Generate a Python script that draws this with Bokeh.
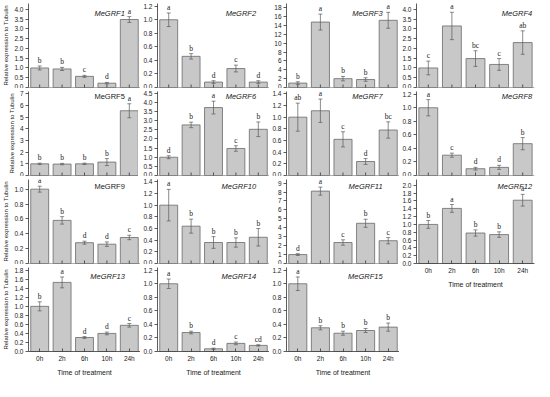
import math
from bokeh.plotting import figure
from bokeh.models import (ColumnDataSource, Whisker, Label, LabelSet, FixedTicker,
                          NumeralTickFormatter, FactorRange, Range1d, TeeHead, Span)
from bokeh.layouts import row, column
from bokeh.embed import file_html
from bokeh.resources import INLINE

times = ["0h", "2h", "6h", "10h", "24h"]

genes = ["MeGRF1", "MeGRF2", "MeGRF3", "MeGRF4", "MeGRF5", "MeGRF6", "MeGRF7",
         "MeGRF8", "MeGRF9", "MeGRF10", "MeGRF11", "MeGRF12", "MeGRF13",
         "MeGRF14", "MeGRF15"]

means = [
    [1.00, 0.95, 0.57, 0.22, 3.48],
    [1.00, 0.46, 0.08, 0.28, 0.08],
    [1.00, 14.8, 2.00, 1.80, 15.2],
    [1.00, 3.15, 1.48, 1.18, 2.30],
    [1.00, 0.98, 1.00, 1.15, 5.55],
    [1.00, 2.77, 3.72, 1.48, 2.53],
    [1.00, 1.11, 0.62, 0.24, 0.78],
    [1.00, 0.30, 0.10, 0.12, 0.47],
    [1.00, 0.58, 0.28, 0.26, 0.35],
    [1.00, 0.64, 0.36, 0.36, 0.45],
    [1.00, 8.10, 2.35, 4.50, 2.55],
    [1.00, 1.41, 0.78, 0.74, 1.62],
    [1.00, 1.53, 0.31, 0.40, 0.58],
    [1.00, 0.28, 0.04, 0.12, 0.09],
    [1.00, 0.35, 0.27, 0.31, 0.36],
]

errs = [
    [0.10, 0.08, 0.05, 0.04, 0.15],
    [0.10, 0.04, 0.02, 0.05, 0.02],
    [0.30, 1.80, 0.50, 0.40, 1.80],
    [0.35, 0.70, 0.40, 0.30, 0.60],
    [0.06, 0.06, 0.06, 0.30, 0.60],
    [0.08, 0.15, 0.35, 0.15, 0.40],
    [0.24, 0.20, 0.13, 0.05, 0.14],
    [0.12, 0.03, 0.02, 0.03, 0.09],
    [0.04, 0.05, 0.02, 0.03, 0.03],
    [0.27, 0.12, 0.10, 0.08, 0.15],
    [0.10, 0.45, 0.30, 0.45, 0.35],
    [0.10, 0.10, 0.08, 0.07, 0.15],
    [0.10, 0.12, 0.02, 0.03, 0.04],
    [0.07, 0.02, 0.01, 0.02, 0.01],
    [0.10, 0.03, 0.03, 0.03, 0.06],
]

letters = [
    ["b", "b", "c", "d", "a"],
    ["a", "b", "d", "c", "d"],
    ["b", "a", "b", "b", "a"],
    ["c", "a", "bc", "c", "ab"],
    ["b", "b", "b", "b", "a"],
    ["d", "b", "a", "c", "b"],
    ["ab", "a", "c", "d", "bc"],
    ["a", "c", "d", "d", "b"],
    ["a", "b", "d", "d", "c"],
    ["a", "b", "b", "b", "b"],
    ["d", "a", "c", "b", "c"],
    ["b", "a", "b", "b", "a"],
    ["b", "a", "d", "d", "c"],
    ["a", "b", "d", "c", "cd"],
    ["a", "b", "b", "b", "b"],
]

# y axis: last tick, tick step, axis end
tick_max = [4.0, 1.2, 18, 4.0, 7, 4.5, 1.4, 1.2, 1.0, 1.4, 9, 2.0, 1.8, 1.2, 1.2]
tick_step = [0.5, 0.2, 2, 0.5, 1, 0.5, 0.2, 0.2, 0.2, 0.2, 1, 0.2, 0.2, 0.2, 0.2]
y_end = [4.3, 1.24, 19.0, 4.3, 7.2, 4.6, 1.44, 1.24, 1.13, 1.44, 9.4, 2.15, 1.86, 1.24, 1.24]
upright = {"MeGRF5", "MeGRF9"}

FONT = "Liberation Sans"
frame_widths = [112, 112, 113, 118]
label_anchor = [4.3, 4.4, 4.25, 4.9]   # where the gene name ends, per column
label_drop = [-5, 0, -2, -4]            # gene name offset from the top, per row
BAR_FILL = "#c8c8c8"
BAR_LINE = "#6a6a6a"
AX = "#333333"
TXT = "#1a1a1a"


def make(i, col, rw, bottom):
    src = ColumnDataSource(dict(
        x=times, mean=means[i], base=[0.0] * len(times),
        upper=[m + e for m, e in zip(means[i], errs[i])],
        lower=[m - e for m, e in zip(means[i], errs[i])],
        letter=letters[i],
    ))
    p = figure(x_range=FactorRange(*times), y_range=Range1d(0, y_end[i]),
               frame_width=frame_widths[col], frame_height=84,
               output_backend="svg", toolbar_location=None,
               min_border_left=26 if col == 0 else 16,
               min_border_right=3 if col == 3 else 0,
               min_border_top=3, min_border_bottom=1,
               outline_line_color=None, background_fill_color="white",
               border_fill_color="white")
    p.xgrid.grid_line_color = None
    p.ygrid.grid_line_color = None
    p.vbar(x="x", top="mean", width=0.8, source=src,
           fill_color=BAR_FILL, line_color=BAR_LINE, line_width=0.8)
    w = Whisker(base="x", upper="upper", lower="lower", source=src,
                line_color="#5a5a5a", line_width=0.7, level="annotation",
                upper_head=TeeHead(size=4, line_color="#5a5a5a", line_width=0.7),
                lower_head=TeeHead(size=4, line_color="#5a5a5a", line_width=0.7))
    p.add_layout(w)
    p.add_layout(LabelSet(x="x", y="upper", text="letter", source=src,
                          text_align="center", text_baseline="bottom", y_offset=1,
                          text_font=FONT, text_font_size="7.5px", text_color=TXT))
    p.add_layout(Label(x=label_anchor[col], y=y_end[i], y_offset=label_drop[rw],
                       text=genes[i], text_align="right", text_baseline="top",
                       text_font=FONT, text_font_size="7.5px", text_color=TXT,
                       text_font_style="normal" if genes[i] in upright else "italic"))
    n = int(round(tick_max[i] / tick_step[i]))
    p.yaxis.ticker = FixedTicker(ticks=[round(k * tick_step[i], 3) for k in range(n + 1)])
    p.yaxis.formatter = NumeralTickFormatter(format="0.0" if tick_step[i] < 1 else "0")
    for ax in (p.xaxis, p.yaxis):
        ax.axis_line_color = AX
        ax.major_tick_line_color = AX
        ax.minor_tick_line_color = None
        ax.major_label_text_font = FONT
        ax.major_label_text_color = TXT
        ax.major_label_text_font_size = "6.5px"
        ax.axis_line_width = 0.8
        ax.major_tick_line_width = 0.8
    p.yaxis.major_tick_out = 3
    p.yaxis.major_tick_in = 0
    p.yaxis.major_label_standoff = 2
    p.xaxis.major_tick_in = 3
    p.xaxis.major_tick_out = 0
    if col == 0:
        p.yaxis.axis_label = "Relative expression to Tubulin"
        p.yaxis.axis_label_text_font = FONT
        p.yaxis.axis_label_text_font_size = "6px"
        p.yaxis.axis_label_text_font_style = "normal"
        p.yaxis.axis_label_text_color = TXT
        p.yaxis.axis_label_standoff = 2
    if bottom:
        p.xaxis.major_label_standoff = 3
        p.xaxis.axis_label = "Time of treatment"
        p.xaxis.axis_label_text_font = FONT
        p.xaxis.axis_label_text_font_size = "7px"
        p.xaxis.axis_label_text_font_style = "normal"
        p.xaxis.axis_label_text_color = TXT
        p.xaxis.axis_label_standoff = 4
    else:
        # axis without labels: baseline plus inward ticks at the bar centres
        p.xaxis.visible = False
        p.add_layout(Span(location=0, dimension="width", line_color=AX,
                          line_width=0.8))
        p.scatter(x="x", y="base", source=src, marker="dash", angle=math.pi / 2,
                  size=6, line_color=AX, line_width=0.8)
    return p


layout_idx = [[0, 4, 8, 12], [1, 5, 9, 13], [2, 6, 10, 14], [3, 7, 11]]
cols = []
for c, idxs in enumerate(layout_idx):
    figs = [make(i, c, k, k == len(idxs) - 1) for k, i in enumerate(idxs)]
    cols.append(column(*figs, spacing=0))
layout = row(*cols, spacing=0)

open("out.html", "w").write(file_html(layout, INLINE))
